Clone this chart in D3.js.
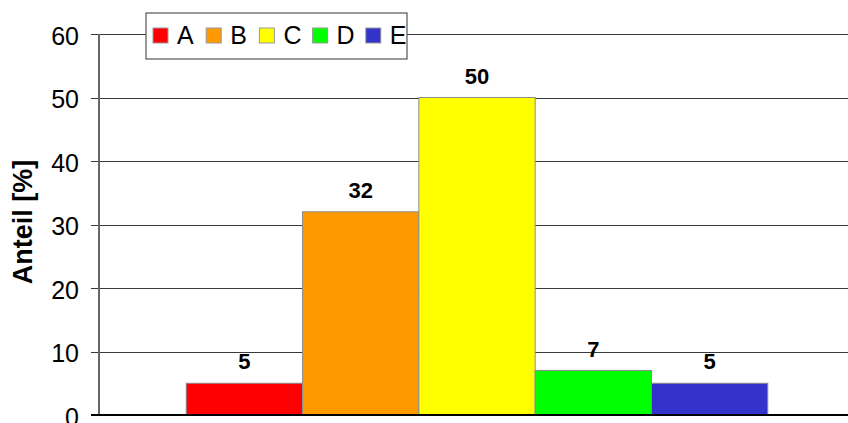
<!DOCTYPE html>
<html>
<head>
<meta charset="utf-8">
<script src="https://cdn.jsdelivr.net/npm/d3@7"></script>
<style>
  html, body { margin: 0; padding: 0; background: #fff; }
  svg { display: block; font-family: Arial, "Liberation Sans", sans-serif; }
</style>
</head>
<body>
<svg id="chart" width="848" height="423"></svg>
<script>
// Share per category, in percent
const categories = ["A", "B", "C", "D", "E"];
const values = [5, 32, 50, 7, 5];
const colors = ["#FF0000", "#FF9900", "#FFFF00", "#00FF00", "#3333CC"];
const yTicks = [0, 10, 20, 30, 40, 50, 60];
const yTitle = "Anteil [%]";

const svg = d3.select("#chart");
const plotLeft = 99, plotRight = 855, plotTop = 34, plotBottom = 415;

const y = d3.scaleLinear().domain([0, 60]).range([plotBottom, plotTop]);
const x = d3.scaleBand().domain(categories).range([plotLeft, plotRight])
  .paddingInner(0).paddingOuter(0.75);

// Horizontal gridlines with tick marks
const yAxis = d3.axisLeft(y).tickValues(yTicks).tickSize(-(848 - plotLeft)).tickPadding(12);
const gAxis = svg.append("g").attr("transform", `translate(${plotLeft},0)`).call(yAxis);
gAxis.select(".domain").remove();
gAxis.selectAll(".tick line")
  .attr("x1", -8).attr("x2", 848 - plotLeft)
  .attr("stroke", "#3a3a3a").attr("stroke-width", 1)
  .attr("shape-rendering", "crispEdges");
gAxis.selectAll(".tick text")
  .attr("font-size", 25).attr("fill", "#000")
  .attr("x", -20).attr("dy", "0.4em")
  .attr("font-family", "Arial, 'Liberation Sans', sans-serif");

// Vertical axis line
svg.append("line")
  .attr("x1", plotLeft).attr("x2", plotLeft).attr("y1", plotTop).attr("y2", plotBottom)
  .attr("stroke", "#666").attr("stroke-width", 1.2)
  .attr("shape-rendering", "crispEdges");

// Bars
svg.append("g").selectAll("rect")
  .data(categories)
  .join("rect")
  .attr("x", d => x(d))
  .attr("y", (d, i) => y(values[i]))
  .attr("width", x.bandwidth())
  .attr("height", (d, i) => y(0) - y(values[i]))
  .attr("fill", (d, i) => colors[i])
  .attr("stroke", "#8c8c8c").attr("stroke-width", 1);

// Zero line
svg.append("line")
  .attr("x1", plotLeft - 8).attr("x2", 848).attr("y1", y(0)).attr("y2", y(0))
  .attr("stroke", "#000").attr("stroke-width", 1.2)
  .attr("shape-rendering", "crispEdges");

// Value labels
svg.append("g").selectAll("text")
  .data(categories)
  .join("text")
  .attr("x", d => x(d) + x.bandwidth() / 2)
  .attr("y", (d, i) => y(values[i]) - 14)
  .attr("text-anchor", "middle")
  .attr("font-size", 22).attr("font-weight", "bold")
  .text((d, i) => values[i]);

// Y axis title
svg.append("text")
  .attr("transform", "translate(32,222) rotate(-90)")
  .attr("text-anchor", "middle")
  .attr("font-size", 27).attr("font-weight", "bold")
  .text(yTitle);

// Legend
const legend = svg.append("g").attr("transform", "translate(146,13)");
legend.append("rect")
  .attr("width", 261).attr("height", 46)
  .attr("fill", "#fff").attr("stroke", "#555").attr("stroke-width", 1.2);
const item = legend.selectAll("g.item")
  .data(categories)
  .join("g")
  .attr("class", "item")
  .attr("transform", (d, i) => `translate(${7 + i * 53.2},15)`);
item.append("rect")
  .attr("width", 15).attr("height", 15)
  .attr("fill", (d, i) => colors[i])
  .attr("stroke", "#999").attr("stroke-width", 1);
item.append("text")
  .attr("x", 24).attr("y", 16)
  .attr("font-size", 25)
  .text(d => d);
</script>
</body>
</html>
